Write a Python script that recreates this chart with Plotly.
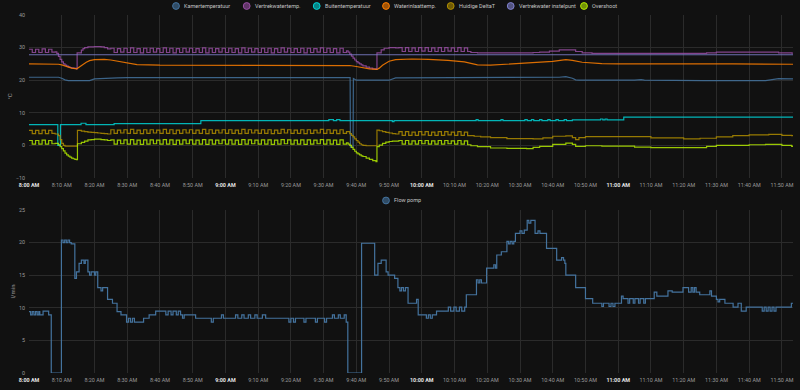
import plotly.graph_objects as go
from datetime import datetime, timedelta

# ---------------- data ----------------
START = datetime(2024, 1, 15, 8, 0)
END_MIN = 233.4  # minutes after 8:00 where the data ends

tick_minutes = [0, 10, 20, 30, 40, 50, 60, 70, 80, 90, 100, 110, 120,
                130, 140, 150, 160, 170, 180, 190, 200, 210, 220, 230]
tick_labels = ["8:00 AM", "8:10 AM", "8:20 AM", "8:30 AM", "8:40 AM", "8:50 AM",
               "9:00 AM", "9:10 AM", "9:20 AM", "9:30 AM", "9:40 AM", "9:50 AM",
               "10:00 AM", "10:10 AM", "10:20 AM", "10:30 AM", "10:40 AM", "10:50 AM",
               "11:00 AM", "11:10 AM", "11:20 AM", "11:30 AM", "11:40 AM", "11:50 AM"]
temp_ticks = [-10, 0, 10, 20, 30, 40]
flow_ticks = [0, 5, 10, 15, 20, 25]

temp_names = ["Kamertemperatuur", "Vertrekwatertemp.", "Buitentemperatuur",
              "Waterinlaattemp.", "Huidige DeltaT", "Vertrekwater instelpunt", "Overshoot"]
temp_colors = ["#44739e", "#984ea3", "#00d2d5", "#ff7f00", "#af8d00", "#7f80cd", "#b3e900"]
flow_name = "Flow pomp"
flow_color = "#44739e"

# (minutes after 8:00, value)
kamertemperatuur = [(0, 20.9), (9, 20.9), (10, 20.6), (11, 20.1), (12, 19.9), (17, 19.8), (18.5, 19.9),
                    (20, 20.4), (23, 20.6), (27, 20.7), (30, 20.8), (45, 20.8), (46, 20.6), (47, 20.8),
                    (86, 20.8), (87, 20.6), (88, 20.8), (98.1, 20.8), (98.2, -0.5), (99.0, -0.5),
                    (99.1, 20.5), (100, 20.0), (110, 20.0), (112, 20.7), (130, 20.8), (150, 20.8),
                    (162, 20.9), (164, 21.1), (166, 20.6), (167, 20.1), (168, 20.0), (185, 20.0),
                    (187, 20.2), (188, 20.0), (200, 19.9), (203, 19.8), (206, 19.9), (225, 19.9),
                    (227, 20.3), (229, 20.5), (233.4, 20.4)]

vertrekwatertemp = [(0, 29.5), (1, 28.5), (2, 29.5), (3, 28.5), (4, 29.6), (5, 28.5), (6, 29.5), (7, 28.6),
                    (8, 28.7), (8.5, 28.2), (9, 27.3), (9.5, 26.4), (10, 25.6), (10.5, 25.0), (11, 24.6),
                    (11.5, 24.3), (12, 24.1), (12.5, 23.9), (13, 23.8), (13.5, 23.7), (14, 23.6), (14.5, 23.5),
                    (14.7, 28.4), (16, 29.2), (16.5, 29.7), (17, 30.0), (18, 30.2), (20, 30.3), (22, 30.2),
                    (23, 30.0), (24, 29.6),
                    (25, 29.8), (26, 28.5), (27, 29.7), (28, 28.6), (29, 29.8), (30, 28.5), (31, 29.9), (32, 28.5),
                    (33, 29.7), (34, 28.4), (35, 29.8), (36, 28.5), (37, 29.8), (38, 28.6), (39, 29.7), (40, 28.5),
                    (41, 29.9), (42, 28.5), (43, 29.8), (44, 28.4), (45, 29.7), (46, 28.5), (47, 29.8), (48, 28.6),
                    (49, 29.8), (50, 28.5), (51, 29.7), (52, 28.5), (53, 29.9), (54, 28.4), (55, 29.8), (56, 28.5),
                    (57, 29.7), (58, 28.6), (59, 29.8), (60, 28.5), (61, 29.8), (62, 28.5), (63, 29.7), (64, 28.4),
                    (65, 29.9), (66, 28.5), (67, 29.8), (68, 28.6), (69, 29.7), (70, 28.5), (71, 29.8), (72, 28.5),
                    (73, 29.8), (74, 28.4), (75, 29.7), (76, 28.5), (77, 29.9), (78, 28.6), (79, 29.8), (80, 28.5),
                    (81, 29.7), (82, 28.5), (83, 29.8), (84, 28.4), (85, 29.8), (86, 28.5), (87, 29.7), (88, 28.6),
                    (89, 29.9), (90, 28.5), (91, 29.8), (92, 28.5), (93, 29.7), (94, 28.4), (95, 29.8), (96, 28.5),
                    (97, 29.0), (97.5, 28.6), (98, 28.0), (98.5, 27.4), (99, 26.8), (99.5, 26.2), (100, 25.7),
                    (100.5, 25.3), (101, 25.0), (101.5, 24.7), (102, 24.4), (103, 24.0), (104, 23.7), (105, 23.5),
                    (106, 23.3), (106.3, 28.4), (107.6, 29.3), (108.5, 29.8), (110, 30.0), (112, 29.9),
                    (113, 30.0), (114, 28.8), (115, 30.0), (116, 28.8), (117, 29.9), (118, 28.8), (119, 30.0),
                    (120, 28.9), (121, 30.0), (122, 28.8), (123, 29.9), (124, 28.8), (125, 30.0), (126, 28.8),
                    (127, 30.0), (128, 28.9), (129, 29.9), (130, 28.8), (131, 30.0), (132, 28.8), (133, 29.9),
                    (134, 28.8), (135, 28.5), (137, 28.4), (150, 28.4), (154, 28.5), (156, 28.6), (159, 28.9),
                    (162, 29.3), (165, 29.3), (167, 28.8), (169, 28.4), (172, 28.2), (190, 28.2), (204, 28.2),
                    (207, 28.4), (210, 28.6), (225, 28.6), (229, 28.4), (233, 28.3), (233.4, 28.3)]

buitentemperatuur = [(0, 6.4), (8.8, 0.0), (9.6, 6.4), (15.9, 6.8), (17.4, 6.4), (26, 6.7), (52.5, 7.6),
                     (91.6, 7.9), (93, 7.6), (94, 7.9), (95, 7.6), (111, 7.3), (111.5, 7.6), (136.6, 7.9),
                     (137.2, 7.6), (144.2, 7.9), (144.8, 7.6), (151.5, 7.9), (152.2, 7.6), (153.5, 7.9),
                     (154.2, 7.6), (156, 7.9), (156.7, 7.6), (158.5, 7.9), (159.2, 7.6), (161, 7.9),
                     (161.7, 7.6), (163.5, 7.9), (164.2, 7.6), (166, 7.8), (174.6, 8.1), (175.3, 7.8),
                     (176, 8.1), (176.6, 7.8), (181.7, 8.7), (233.4, 8.7)]

waterinlaattemp = [(0, 25.0), (8, 25.0), (9, 24.9), (10, 24.7), (11, 24.4), (12, 24.0), (13, 23.7),
                   (14.6, 23.5), (15.5, 24.0), (16.5, 24.8), (17.5, 25.5), (18.5, 26.0), (20, 26.3),
                   (23, 26.4), (25, 26.2), (27, 25.9), (30, 25.3), (33, 24.8), (40, 24.6), (60, 24.6),
                   (80, 24.7), (97, 24.6), (98, 24.5), (100, 24.2), (102, 23.8), (104, 23.5), (106.3, 23.3),
                   (107, 23.7), (108, 24.6), (109, 25.3), (110, 25.8), (112, 26.3), (117, 26.5), (122, 26.4),
                   (128, 26.1), (133, 25.6), (135, 25.1), (137, 24.7), (141, 24.6), (147, 25.0), (154, 25.3),
                   (160, 25.8), (164, 26.3), (166, 26.1), (169, 25.5), (175, 25.1), (180, 25.0), (200, 25.1),
                   (215, 25.0), (233.4, 24.9)]

huidige_deltat = [(0, 4.6), (1, 3.6), (2, 4.6), (3, 3.6), (4, 4.7), (5, 3.6), (6, 4.6), (7, 3.7),
                  (8, 3.5), (9, 3.0), (9.5, 1.8), (10, 0.6), (10.5, 0.0), (11, -0.2),
                  (14.8, 4.6), (16, 4.4), (17, 4.2), (18, 4.1), (19, 4.0), (20, 3.9), (21, 3.8), (22, 3.7),
                  (23, 3.6), (24, 3.5),
                  (25, 4.8), (26, 3.7), (27, 4.7), (28, 3.8), (29, 4.8), (30, 3.7), (31, 4.9), (32, 3.7),
                  (33, 4.7), (34, 3.6), (35, 4.8), (36, 3.7), (37, 4.8), (38, 3.8), (39, 4.7), (40, 3.7),
                  (41, 4.9), (42, 3.7), (43, 4.8), (44, 3.6), (45, 4.7), (46, 3.7), (47, 4.8), (48, 3.8),
                  (49, 4.8), (50, 3.7), (51, 4.7), (52, 3.7), (53, 4.9), (54, 3.6), (55, 4.8), (56, 3.7),
                  (57, 4.7), (58, 3.8), (59, 4.8), (60, 3.7), (61, 4.8), (62, 3.7), (63, 4.7), (64, 3.6),
                  (65, 4.9), (66, 3.7), (67, 4.8), (68, 3.8), (69, 4.7), (70, 3.7), (71, 4.8), (72, 3.7),
                  (73, 4.8), (74, 3.6), (75, 4.7), (76, 3.7), (77, 4.9), (78, 3.8), (79, 4.8), (80, 3.7),
                  (81, 4.7), (82, 3.7), (83, 4.8), (84, 3.6), (85, 4.8), (86, 3.7), (87, 4.7), (88, 3.8),
                  (89, 4.9), (90, 3.7), (91, 4.8), (92, 3.7), (93, 4.7), (94, 3.6), (95, 4.8), (96, 3.7),
                  (97, 4.2), (98, 3.6), (98.5, 3.1), (99, 2.6), (99.5, 2.0), (100, 1.5), (100.5, 1.0),
                  (101, 0.5), (101.5, 0.2), (102, 0.0), (103, -0.1),
                  (106.3, 4.7), (107, 4.5), (108, 4.2), (109, 4.0), (110, 3.8), (111, 3.6), (112, 3.5),
                  (113, 4.2), (114, 3.1), (115, 4.2), (116, 3.1), (117, 4.1), (118, 3.1), (119, 4.2),
                  (120, 3.2), (121, 4.2), (122, 3.1), (123, 4.1), (124, 3.1), (125, 4.2), (126, 3.1),
                  (127, 4.2), (128, 3.2), (129, 4.1), (130, 3.1), (131, 4.2), (132, 3.1), (133, 4.1),
                  (134, 3.0), (136, 2.8), (138, 2.6), (141, 2.4), (146, 2.1), (154, 2.0), (157, 2.3),
                  (160, 2.8), (164, 2.9), (166, 2.4), (167, 1.8), (168, 2.4), (170, 2.7), (180, 2.7),
                  (190, 2.3), (200, 2.0), (205, 2.2), (210, 2.6), (215, 3.0), (220, 3.2), (226, 3.4),
                  (230, 3.1), (233, 3.0), (233.4, 3.0)]

vertrekwater_instelpunt = [(0, 27.8), (60, 27.8), (120, 27.8), (180, 27.8), (233.4, 27.8)]

overshoot = [(0, 1.5), (1, 0.4), (2, 1.5), (3, 0.4), (4, 1.6), (5, 0.4), (6, 1.5), (7, 0.5),
             (8, 0.6), (9, 0.2), (9.5, -0.4), (10, -1.0), (10.5, -1.7), (11, -2.4), (11.5, -2.9),
             (12, -3.3), (12.5, -3.6), (13, -3.9), (13.5, -4.1), (14, -4.3), (14.5, -4.4),
             (14.8, 0.5), (16, 0.9), (17, 1.3), (18, 1.7), (19, 1.8), (20, 1.9), (22, 1.8), (23, 1.7),
             (24, 1.5),
             (25, 1.7), (26, 0.4), (27, 1.6), (28, 0.5), (29, 1.7), (30, 0.4), (31, 1.8), (32, 0.4),
             (33, 1.6), (34, 0.3), (35, 1.7), (36, 0.4), (37, 1.7), (38, 0.5), (39, 1.6), (40, 0.4),
             (41, 1.8), (42, 0.4), (43, 1.7), (44, 0.3), (45, 1.6), (46, 0.4), (47, 1.7), (48, 0.5),
             (49, 1.7), (50, 0.4), (51, 1.6), (52, 0.4), (53, 1.8), (54, 0.3), (55, 1.7), (56, 0.4),
             (57, 1.6), (58, 0.5), (59, 1.7), (60, 0.4), (61, 1.7), (62, 0.4), (63, 1.6), (64, 0.3),
             (65, 1.8), (66, 0.4), (67, 1.7), (68, 0.5), (69, 1.6), (70, 0.4), (71, 1.7), (72, 0.4),
             (73, 1.7), (74, 0.3), (75, 1.6), (76, 0.4), (77, 1.8), (78, 0.5), (79, 1.7), (80, 0.4),
             (81, 1.6), (82, 0.4), (83, 1.7), (84, 0.3), (85, 1.7), (86, 0.4), (87, 1.6), (88, 0.5),
             (89, 1.8), (90, 0.4), (91, 1.7), (92, 0.4), (93, 1.6), (94, 0.3), (95, 1.7), (96, 0.4),
             (97, 0.8), (97.5, 0.4), (98, 0.0), (98.5, -0.6), (99, -1.2), (99.5, -1.8), (100, -2.3),
             (100.5, -2.6), (101, -2.9), (101.5, -3.2), (102, -3.4), (103, -3.9), (104, -4.3),
             (105, -4.7), (106, -5.0),
             (106.3, -0.4), (107, 0.1), (108, 0.6), (109, 1.0), (110, 1.2), (111, 1.3), (112, 1.3),
             (113, 1.5), (114, 0.4), (115, 1.5), (116, 0.4), (117, 1.4), (118, 0.4), (119, 1.5),
             (120, 0.5), (121, 1.5), (122, 0.4), (123, 1.4), (124, 0.4), (125, 1.5), (126, 0.4),
             (127, 1.5), (128, 0.5), (129, 1.4), (130, 0.4), (131, 1.5), (132, 0.4), (133, 1.4),
             (134, 0.2), (135, -0.1), (137, -0.4), (141, -0.8), (146, -0.9), (152, -1.0), (154, -0.6),
             (156, -0.3), (160, 0.3), (164, 0.7), (166, 0.3), (167, -0.3), (170, -0.1), (175, -0.2),
             (185, -0.5), (190, -0.7), (204, -0.7), (207, -0.3), (210, 0.0), (220, 0.2), (225, 0.3),
             (230, 0.0), (233, -0.3), (233.4, -0.3)]

flow_pomp = [(0, 9.4), (0.5, 8.9), (1, 9.4), (1.5, 8.9), (2, 9.4), (2.5, 8.9), (3, 9.4), (3.3, 8.9),
             (4.3, 9.5), (6.0, 8.9), (6.8, 0.0), (9.9, 20.4), (10.4, 20.0), (10.9, 20.4), (11.4, 20.0),
             (11.9, 20.4), (12.4, 20.0), (12.9, 19.8), (14.0, 14.5), (14.5, 15.5), (15.3, 16.8),
             (16.0, 17.3), (16.8, 16.8), (17.2, 17.3), (18.0, 15.5), (18.5, 15.0), (19.0, 15.5),
             (20.0, 15.0), (20.4, 15.5), (21.0, 13.1), (22.0, 12.6), (22.5, 13.1), (24.0, 11.3),
             (25.5, 10.7), (26.9, 9.4), (28.1, 8.9), (29.8, 7.8), (30.4, 8.4), (31.0, 7.8), (31.6, 8.4),
             (32.2, 7.8), (35.0, 8.4), (36.7, 8.9), (38.7, 9.5), (41.8, 8.9), (42.5, 9.5), (43.4, 8.9),
             (44.0, 9.5), (45.0, 8.9), (45.6, 9.5), (46.3, 8.9), (46.9, 8.4), (47.4, 8.9), (50.9, 8.4),
             (55.7, 7.8), (56.3, 8.4), (58.8, 8.9), (59.4, 8.4), (63.1, 8.9), (63.8, 8.4), (65.0, 8.9),
             (65.7, 8.4), (67.0, 8.9), (67.7, 8.4), (69.0, 8.9), (69.7, 8.4), (71.3, 8.9), (72.3, 8.4),
             (79.4, 7.8), (80.0, 8.4), (80.8, 7.8), (81.4, 8.4), (84.0, 7.8), (84.6, 8.4), (87.5, 7.8),
             (88.1, 8.4), (90.3, 7.8), (90.9, 8.4), (92.7, 8.9), (93.3, 8.4), (94.5, 8.9), (95.1, 8.4),
             (96.3, 8.9), (96.9, 7.8), (97.4, 0.0), (101.6, 19.9), (105.6, 15.0), (106.6, 16.8),
             (107.6, 17.3), (109.1, 15.5), (109.7, 15.0), (111.7, 14.5), (112.7, 13.1), (113.3, 12.6),
             (113.8, 13.1), (114.4, 12.6), (115.0, 13.1), (115.8, 10.7), (118.4, 11.3), (118.9, 8.9),
             (121.4, 8.4), (122.0, 8.9), (122.6, 8.4), (123.2, 8.9), (124.5, 9.5), (128.1, 10.1),
             (128.8, 9.5), (129.8, 10.1), (130.5, 9.5), (131.5, 10.1), (132.2, 9.5), (133.1, 10.1),
             (133.6, 12.0), (136.7, 14.3), (137.2, 13.8), (137.7, 14.3), (138.2, 13.8), (139.8, 16.1),
             (142.0, 16.6), (142.5, 16.1), (142.9, 18.1), (144.3, 18.6), (146.0, 20.2), (146.5, 19.8),
             (147.0, 20.2), (147.6, 19.8), (148.1, 20.2), (148.6, 21.4), (150.0, 21.8), (150.6, 21.4),
             (151.3, 21.9), (152.2, 23.4), (152.7, 23.0), (153.3, 23.4), (154.6, 21.4), (155.5, 21.8),
             (156.1, 21.4), (158.1, 19.1), (161.2, 17.3), (162.7, 17.7), (163.3, 17.3), (163.7, 16.8),
             (164.0, 15.0), (167.0, 13.1), (170.0, 11.4), (172.2, 10.7), (175.0, 10.2), (175.5, 10.7),
             (177.2, 10.2), (177.8, 10.7), (178.4, 10.2), (179.0, 10.7), (181.0, 11.8), (181.5, 11.4),
             (183.0, 10.7), (183.5, 11.4), (184.6, 10.7), (185.1, 11.4), (186.2, 10.7), (186.7, 11.4),
             (187.8, 10.7), (188.3, 11.4), (191.0, 12.4), (191.8, 11.8), (195.2, 12.6), (196.5, 12.4),
             (199.8, 13.1), (201.5, 12.4), (202.3, 13.1), (202.8, 12.4), (203.3, 13.1), (203.8, 12.4),
             (204.9, 12.0), (208.0, 12.6), (208.5, 11.8), (210.0, 11.3), (210.5, 10.9), (211.0, 11.3),
             (212.6, 10.7), (215.1, 10.1), (216.6, 10.7), (217.6, 9.5), (219.1, 10.1), (224.0, 9.5),
             (224.6, 10.1), (225.2, 9.5), (225.8, 10.1), (226.4, 9.5), (227.0, 10.1), (227.6, 9.5),
             (228.2, 10.1), (232.9, 10.7), (233.4, 10.7)]

temp_series = [kamertemperatuur, vertrekwatertemp, buitentemperatuur, waterinlaattemp,
               huidige_deltat, vertrekwater_instelpunt, overshoot]
temp_shapes = ["linear", "hv", "hv", "linear", "hv", "linear", "hv"]

# ---------------- figure ----------------
W, H = 800, 390
ML, MR, MT, MB = 29, 7, 15, 17
PW, PH = W - ML - MR, H - MT - MB
BG = "#111111"
GRID = "#2b2b2b"
TICK_COL = "#9a9a9a"
FONT = "Roboto"


def to_xy(points):
    xs = [START + timedelta(minutes=t) for t, _ in points]
    ys = [v for _, v in points]
    return xs, ys


fig = go.Figure()
for name, color, pts, shp in zip(temp_names, temp_colors, temp_series, temp_shapes):
    xs, ys = to_xy(pts)
    fig.add_trace(go.Scatter(x=xs, y=ys, mode="lines", name=name, showlegend=False,
                             line=dict(color=color, width=1.2, shape=shp), opacity=0.85,
                             xaxis="x", yaxis="y"))
fx, fy = to_xy(flow_pomp)
fig.add_trace(go.Scatter(x=fx, y=fy, mode="lines", name=flow_name, showlegend=False,
                         line=dict(color=flow_color, width=1.2, shape="hv"),
                         xaxis="x2", yaxis="y2"))

tickvals = [START + timedelta(minutes=m) for m in tick_minutes]
ticktext = [("<span style='color:#e2e2e2'><b>%s</b></span>" % s) if ":00 " in s else s
            for s in tick_labels]
x_range = [START, START + timedelta(minutes=END_MIN)]

top_dom = [1 - (178 - MT) / PH, 1]
bot_dom = [0, 1 - (210 - MT) / PH]

xcommon = dict(range=x_range, tickmode="array", tickvals=tickvals, ticktext=ticktext,
               showgrid=True, gridcolor=GRID, gridwidth=1, zeroline=False, showline=False,
               ticks="", tickfont=dict(family=FONT, size=5.4, color=TICK_COL), ticklabelstandoff=3)
ycommon = dict(showgrid=True, gridcolor=GRID, gridwidth=1, zeroline=False, showline=False,
               ticks="", tickfont=dict(family=FONT, size=5.4, color=TICK_COL), ticklabelstandoff=3)

fig.update_layout(
    width=W, height=H,
    margin=dict(l=ML, r=MR, t=MT, b=MB),
    paper_bgcolor=BG, plot_bgcolor=BG,
    font=dict(family=FONT, color=TICK_COL),
    showlegend=False,
    xaxis=dict(domain=[0, 1], anchor="y", **xcommon),
    yaxis=dict(domain=top_dom, anchor="x", range=[-10, 40], tickmode="array", tickvals=temp_ticks,
               title=dict(text="°C", font=dict(family=FONT, size=6, color=TICK_COL), standoff=2),
               **ycommon),
    xaxis2=dict(domain=[0, 1], anchor="y2", **xcommon),
    yaxis2=dict(domain=bot_dom, anchor="x2", range=[0, 25], tickmode="array", tickvals=flow_ticks,
                title=dict(text="l/min", font=dict(family=FONT, size=6, color=TICK_COL), standoff=2),
                **ycommon),
)

# ---------------- custom legends (circle + label) ----------------
def px_x(px):
    return (px - ML) / PW


def px_y(py):
    return (H - MB - py) / PH


R = 3.4
legend_top_px = [176, 246.7, 316.7, 386, 450.7, 510.7, 584]
legend_entries = [(temp_names[i], temp_colors[i], legend_top_px[i], 6) for i in range(len(temp_names))]
legend_entries.append((flow_name, flow_color, 386, 200.5))

shapes, annots = [], []
for name, color, cx, cy in legend_entries:
    r_, g_, b_ = int(color[1:3], 16), int(color[3:5], 16), int(color[5:7], 16)
    shapes.append(dict(type="circle", xref="paper", yref="paper",
                       x0=px_x(cx - R), x1=px_x(cx + R), y0=px_y(cy + R), y1=px_y(cy - R),
                       fillcolor="rgba(%d,%d,%d,0.6)" % (r_, g_, b_),
                       line=dict(color=color, width=1)))
    annots.append(dict(text=name, xref="paper", yref="paper", x=px_x(cx + 6.0), y=px_y(cy),
                       xanchor="left", yanchor="middle", showarrow=False,
                       font=dict(family=FONT, size=5.5, color="#c4c4c4")))
fig.update_layout(shapes=shapes, annotations=annots)

fig.write_html("out.html")
